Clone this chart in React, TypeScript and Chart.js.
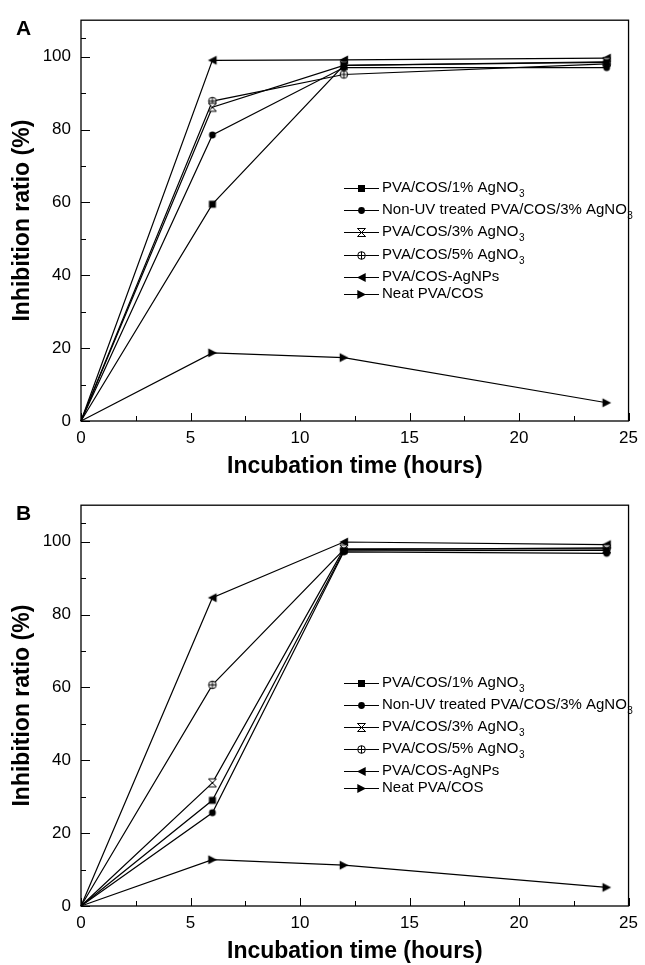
import React, { useEffect, useRef } from "react";
import { Chart, registerables } from "chart.js";

Chart.register(...registerables);

// ---------- data ----------
const hours = [0, 6, 12, 24];
const seriesLabels = [
  "PVA/COS/1% AgNO3",
  "Non-UV treated PVA/COS/3% AgNO3",
  "PVA/COS/3% AgNO3",
  "PVA/COS/5% AgNO3",
  "PVA/COS-AgNPs",
  "Neat PVA/COS",
];
const markerTypes = ["square", "circle", "hourglass", "circleplus", "triLeft", "triRight"];

// Panel A
const ag1A = [0, 59.5, 97.6, 98.4];
const nonUvA = [0, 78.5, 97.0, 97.0];
const ag3A = [0, 86.1, 97.6, 98.6];
const ag5A = [0, 87.8, 95.1, 98.0];
const agnpA = [0, 99.0, 99.1, 99.6];
const neatA = [0, 18.7, 17.4, 5.0];

// Panel B
const ag1B = [0, 29.0, 97.5, 97.6];
const nonUvB = [0, 25.6, 97.2, 96.8];
const ag3B = [0, 33.8, 98.0, 98.0];
const ag5B = [0, 60.7, 97.8, 98.3];
const agnpB = [0, 84.6, 99.9, 99.2];
const neatB = [0, 12.7, 11.2, 5.1];

const xMajorTicks = [0, 5, 10, 15, 20, 25];
const yMajorTicks = [0, 20, 40, 60, 80, 100];
const xTitle = "Incubation time (hours)";
const yTitle = "Inhibition ratio (%)";

const FONT = "'Liberation Sans', Arial, Helvetica, sans-serif";

// ---------- markers ----------
function drawMarker(ctx: CanvasRenderingContext2D, type: string, cx: number, cy: number) {
  ctx.save();
  ctx.fillStyle = "#000";
  ctx.strokeStyle = "#000";
  ctx.lineWidth = 1;
  ctx.beginPath();
  switch (type) {
    case "square":
      ctx.fillRect(cx - 3.5, cy - 3.5, 7, 7);
      break;
    case "circle":
      ctx.arc(cx, cy, 3.4, 0, Math.PI * 2);
      ctx.fill();
      break;
    case "hourglass":
      ctx.moveTo(cx - 4, cy - 4);
      ctx.lineTo(cx + 4, cy - 4);
      ctx.lineTo(cx - 4, cy + 4);
      ctx.lineTo(cx + 4, cy + 4);
      ctx.closePath();
      ctx.fillStyle = "#fff";
      ctx.fill();
      ctx.stroke();
      ctx.beginPath();
      ctx.moveTo(cx - 4, cy - 4);
      ctx.lineTo(cx + 4, cy + 4);
      ctx.stroke();
      break;
    case "circleplus":
      ctx.arc(cx, cy, 3.8, 0, Math.PI * 2);
      ctx.fillStyle = "#fff";
      ctx.fill();
      ctx.stroke();
      ctx.beginPath();
      ctx.moveTo(cx, cy - 3.8);
      ctx.lineTo(cx, cy + 3.8);
      ctx.moveTo(cx - 3.8, cy);
      ctx.lineTo(cx + 3.8, cy);
      ctx.stroke();
      break;
    case "triLeft":
      ctx.moveTo(cx - 4.5, cy);
      ctx.lineTo(cx + 4.2, cy - 4.6);
      ctx.lineTo(cx + 4.2, cy + 4.6);
      ctx.closePath();
      ctx.fill();
      break;
    case "triRight":
      ctx.moveTo(cx + 4.5, cy);
      ctx.lineTo(cx - 4.2, cy - 4.6);
      ctx.lineTo(cx - 4.2, cy + 4.6);
      ctx.closePath();
      ctx.fill();
      break;
  }
  ctx.restore();
}

const markerCache: Record<string, HTMLCanvasElement> = {};
function markerCanvas(type: string): HTMLCanvasElement {
  if (markerCache[type]) return markerCache[type];
  const c = document.createElement("canvas");
  c.width = 14;
  c.height = 14;
  const cx = c.getContext("2d")!;
  drawMarker(cx, type, 7, 7);
  markerCache[type] = c;
  return c;
}

// ---------- plugins ----------
const framePlugin = {
  id: "frame",
  afterDraw(chart: any) {
    const { ctx, chartArea: a, scales } = chart;
    const xs = scales.x;
    const ys = scales.y;
    ctx.save();
    ctx.strokeStyle = "#000";
    ctx.lineWidth = 1.3;
    ctx.strokeRect(a.left, a.top, a.right - a.left, a.bottom - a.top);
    ctx.lineWidth = 1;
    ctx.beginPath();
    xMajorTicks.forEach((v, i) => {
      const px = Math.round(xs.getPixelForValue(v)) + 0.5;
      ctx.moveTo(px, a.bottom);
      ctx.lineTo(px, a.bottom - 8);
      if (i < xMajorTicks.length - 1) {
        const m = Math.round(xs.getPixelForValue((v + xMajorTicks[i + 1]) / 2)) + 0.5;
        ctx.moveTo(m, a.bottom);
        ctx.lineTo(m, a.bottom - 5);
      }
    });
    const yAll = [...yMajorTicks, 110];
    yAll.forEach((v, i) => {
      const py = Math.round(ys.getPixelForValue(v)) + 0.5;
      if (v !== 110) {
        ctx.moveTo(a.left, py);
        ctx.lineTo(a.left + 9, py);
      }
      if (i < yAll.length - 1) {
        const m = Math.round(ys.getPixelForValue((v + yAll[i + 1]) / 2)) + 0.5;
        ctx.moveTo(a.left, m);
        ctx.lineTo(a.left + 5, m);
      }
    });
    ctx.stroke();
    ctx.restore();
  },
};

function drawLabelText(ctx: CanvasRenderingContext2D, text: string, x: number, y: number) {
  const m = text.match(/^(.*AgNO)3$/);
  ctx.font = `15px ${FONT}`;
  ctx.textBaseline = "middle";
  ctx.textAlign = "left";
  ctx.fillStyle = "#000";
  if (m) {
    ctx.fillText(m[1], x, y);
    const w = ctx.measureText(m[1]).width;
    ctx.font = `10px ${FONT}`;
    ctx.fillText("3", x + w + 0.5, y + 6);
  } else {
    ctx.fillText(text, x, y);
  }
}

function makeLegendPlugin(letter: string, legendYs: number[]) {
  return {
    id: "customLegend",
    afterDraw(chart: any) {
      const { ctx } = chart;
      ctx.save();
      // panel letter
      ctx.font = `bold 21px ${FONT}`;
      ctx.fillStyle = "#000";
      ctx.textBaseline = "alphabetic";
      ctx.textAlign = "left";
      ctx.fillText(letter, 16, 35);
      seriesLabels.forEach((lab, i) => {
        const y = legendYs[i];
        ctx.strokeStyle = "#000";
        ctx.lineWidth = 1.2;
        ctx.beginPath();
        ctx.moveTo(344, y + 0.5);
        ctx.lineTo(379, y + 0.5);
        ctx.stroke();
        drawMarker(ctx, markerTypes[i], 361.5, y + 0.5);
        drawLabelText(ctx, lab, 382, y);
      });
      ctx.restore();
    },
  };
}

function buildConfig(series: number[][], letter: string, legendYs: number[]): any {
  return {
    type: "line",
    data: {
      datasets: series.map((vals, i) => ({
        label: seriesLabels[i],
        data: hours.map((h, j) => ({ x: h, y: vals[j] })),
        borderColor: "#000",
        backgroundColor: "#000",
        borderWidth: 1.2,
        tension: 0,
        pointStyle: markerCanvas(markerTypes[i]),
        pointRadius: hours.map((h) => (h === 0 ? 0 : 4)),
        clip: false,
      })),
    },
    options: {
      animation: false,
      responsive: false,
      devicePixelRatio: 1,
      layout: { padding: { left: 0, right: 12, top: 15, bottom: 0 } },
      plugins: { legend: { display: false }, tooltip: { enabled: false } },
      font: { family: FONT },
      scales: {
        x: {
          type: "linear",
          min: 0,
          max: 25,
          afterBuildTicks: (s: any) => {
            s.ticks = xMajorTicks.map((v) => ({ value: v }));
          },
          afterFit: (s: any) => {
            s.height = 59;
          },
          grid: { display: false, drawTicks: false },
          border: { display: false },
          ticks: {
            padding: 7,
            color: "#000",
            font: { family: FONT, size: 17 },
            maxRotation: 0,
          },
          title: {
            display: true,
            text: xTitle,
            color: "#000",
            font: { family: FONT, size: 23, weight: "bold" },
            padding: { top: 0, bottom: 0 },
          },
        },
        y: {
          type: "linear",
          min: 0,
          max: 110,
          afterBuildTicks: (s: any) => {
            s.ticks = yMajorTicks.map((v) => ({ value: v }));
          },
          afterFit: (s: any) => {
            s.width = 81;
          },
          grid: { display: false, drawTicks: false },
          border: { display: false },
          ticks: {
            padding: 10,
            color: "#000",
            font: { family: FONT, size: 17 },
          },
          title: {
            display: true,
            text: yTitle,
            color: "#000",
            font: { family: FONT, size: 23, weight: "bold" },
            padding: { top: 9, bottom: 0 },
          },
        },
      },
    },
    plugins: [framePlugin, makeLegendPlugin(letter, legendYs)],
  };
}

function Panel({ series, letter, legendYs, top }: { series: number[][]; letter: string; legendYs: number[]; top: number }) {
  const ref = useRef<HTMLCanvasElement | null>(null);
  useEffect(() => {
    if (!ref.current) return;
    const chart = new Chart(ref.current, buildConfig(series, letter, legendYs));
    return () => chart.destroy();
  }, []);
  return (
    <canvas
      ref={ref}
      width={645}
      height={480}
      style={{ position: "absolute", left: 0, top, width: 645, height: 480, display: "block" }}
    />
  );
}

export default function App() {
  return (
    <div style={{ position: "absolute", left: 0, top: 0, width: 645, height: 965, background: "#fff", overflow: "hidden" }}>
      <Panel
        series={[ag1A, nonUvA, ag3A, ag5A, agnpA, neatA]}
        letter="A"
        legendYs={[188, 210, 232, 255, 277, 294]}
        top={0}
      />
      <Panel
        series={[ag1B, nonUvB, ag3B, ag5B, agnpB, neatB]}
        letter="B"
        legendYs={[198, 220, 242, 264, 286, 303]}
        top={485}
      />
    </div>
  );
}
